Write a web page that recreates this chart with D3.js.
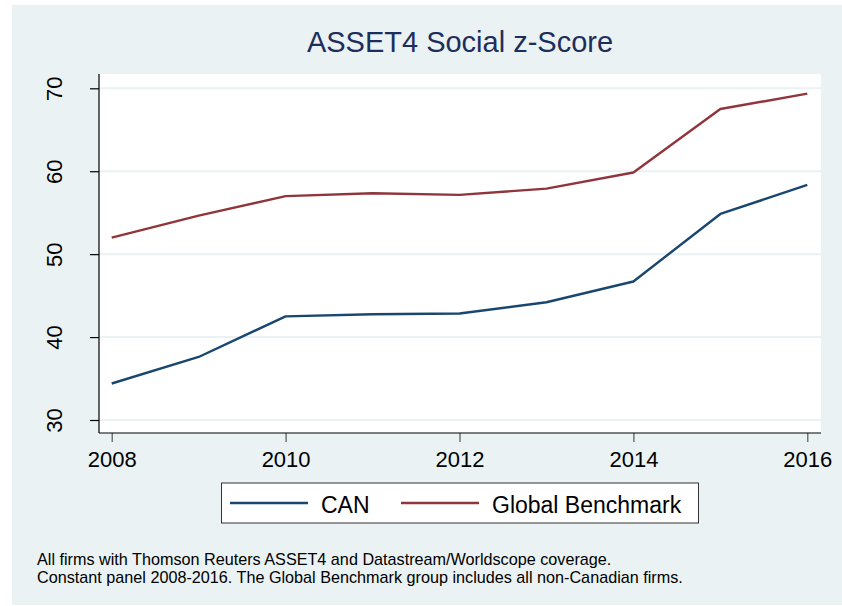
<!DOCTYPE html>
<html>
<head>
<meta charset="utf-8">
<script src="https://cdn.jsdelivr.net/npm/d3@7"></script>
<style>
  html, body { margin: 0; padding: 0; background: #fff; }
  svg { display: block; font-family: "Liberation Sans", Arial, sans-serif; }
</style>
</head>
<body>
<div id="chart"></div>
<script>
// data
const years = [2008, 2009, 2010, 2011, 2012, 2013, 2014, 2015, 2016];
const canValues = [34.4, 37.6, 42.5, 42.75, 42.85, 44.2, 46.7, 54.85, 58.35];
const globalValues = [52.0, 54.65, 57.0, 57.35, 57.15, 57.9, 59.85, 67.5, 69.35];
const yTicks = [30, 40, 50, 60, 70];
const xTicks = [2008, 2010, 2012, 2014, 2016];
const seriesNames = ['CAN', 'Global Benchmark'];
const footnotes = [
  'All firms with Thomson Reuters ASSET4 and Datastream/Worldscope coverage.',
  'Constant panel 2008-2016. The Global Benchmark group includes all non-Canadian firms.'
];

const W = 842, H = 606
const plot = {left: 99, right: 821, top: 74, bottom: 433}
const colors = ['#1a476f', '#90353b']

const svg = d3.select('#chart').append('svg')
    .attr('width', W)
    .attr('height', H)

// graph region
svg.append('rect')
    .attr('x', 12).attr('y', 5)
    .attr('width', W - 12).attr('height', 600)
    .attr('fill', '#eaf2f3')

// plot region
svg.append('rect')
    .attr('x', plot.left).attr('y', plot.top)
    .attr('width', plot.right - plot.left).attr('height', plot.bottom - plot.top)
    .attr('fill', '#fff')

const x = d3.scaleLinear().domain([2008, 2016]).range([111.7, 807.3])
const y = d3.scaleLinear().domain([30, 70]).range([420, 88.3])

// gridlines
svg.append('g')
    .selectAll('line')
    .data(yTicks)
    .join('line')
    .attr('x1', plot.left).attr('x2', plot.right)
    .attr('y1', d => y(d)).attr('y2', d => y(d))
    .attr('stroke', '#eaf2f3')
    .attr('stroke-width', 2)

// y axis
const yAxis = svg.append('g')
    .attr('transform', `translate(${plot.left},0)`)
    .call(d3.axisLeft(y).tickValues(yTicks).tickSize(9).tickSizeOuter(0))
yAxis.select('.domain').remove()
yAxis.append('line')
    .attr('y1', plot.top).attr('y2', plot.bottom)
    .attr('stroke', '#000').attr('stroke-width', 1.2)
yAxis.selectAll('.tick line').attr('stroke', '#000').attr('stroke-width', 1.2)
yAxis.selectAll('.tick text')
    .attr('x', null).attr('dy', null)
    .attr('transform', 'translate(-37,0) rotate(-90)')
    .attr('text-anchor', 'middle')
    .attr('fill', '#000')
    .style('font-size', '22px')
    .style('font-family', '"Liberation Sans", Arial, sans-serif')

// x axis
const xAxis = svg.append('g')
    .attr('transform', `translate(0,${plot.bottom})`)
    .call(d3.axisBottom(x).tickValues(xTicks).tickFormat(d3.format('d')).tickSize(9).tickSizeOuter(0))
xAxis.select('.domain').remove()
xAxis.append('line')
    .attr('x1', plot.left).attr('x2', plot.right)
    .attr('stroke', '#000').attr('stroke-width', 1.2)
xAxis.selectAll('.tick line').attr('stroke', '#555').attr('stroke-width', 1.2)
xAxis.selectAll('.tick text')
    .attr('y', 33.5).attr('dy', null)
    .attr('fill', '#000')
    .style('font-size', '22px')
    .style('font-family', '"Liberation Sans", Arial, sans-serif')

// lines
const line = d3.line()
    .x((d, i) => x(years[i]))
    .y(d => y(d))

svg.append('g')
    .selectAll('path')
    .data([canValues, globalValues])
    .join('path')
    .attr('d', line)
    .attr('fill', 'none')
    .attr('stroke', (d, i) => colors[i])
    .attr('stroke-width', 2.4)
    .attr('stroke-linejoin', 'round')

// title
svg.append('text')
    .attr('x', 460)
    .attr('y', 52)
    .attr('text-anchor', 'middle')
    .attr('fill', '#1e2e5c')
    .style('font-size', '29px')
    .text('ASSET4 Social z-Score')

// legend
const legend = svg.append('g')
legend.append('rect')
    .attr('x', 221.5).attr('y', 483)
    .attr('width', 477).attr('height', 40)
    .attr('fill', '#fff')
    .attr('stroke', '#333')
    .attr('stroke-width', 1)
const legendX = [230, 401]
const items = legend.selectAll('g.item')
    .data(seriesNames)
    .join('g')
    .attr('class', 'item')
    .attr('transform', (d, i) => `translate(${legendX[i]},0)`)
items.append('line')
    .attr('x1', 0).attr('x2', 78)
    .attr('y1', 503).attr('y2', 503)
    .attr('stroke', (d, i) => colors[i])
    .attr('stroke-width', 2.4)
items.append('text')
    .attr('x', 91)
    .attr('y', 512.5)
    .attr('fill', '#000')
    .style('font-size', '23px')
    .text(d => d)

// note
svg.append('g')
    .selectAll('text')
    .data(footnotes)
    .join('text')
    .attr('x', 37)
    .attr('y', (d, i) => 564.5 + i * 18.2)
    .attr('fill', '#000')
    .style('font-size', '16.2px')
    .text(d => d)
</script>
</body>
</html>
